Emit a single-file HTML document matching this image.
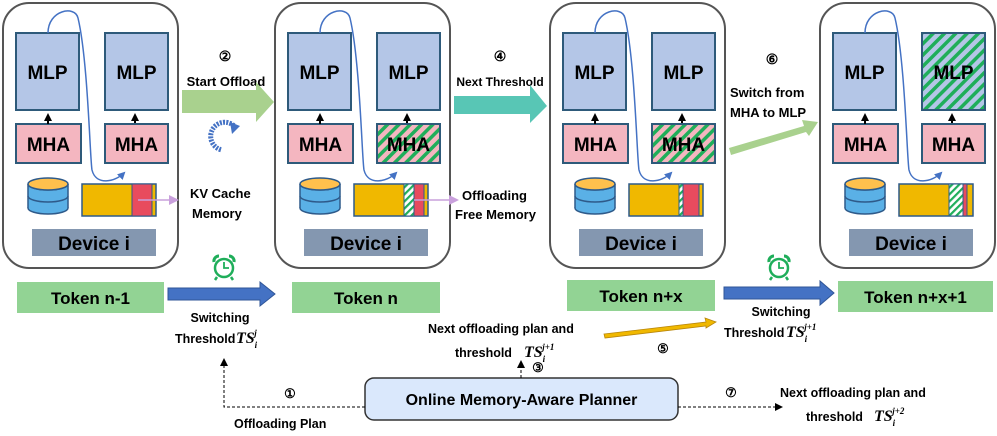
<!DOCTYPE html>
<html><head><meta charset="utf-8"><style>
html,body{margin:0;padding:0;background:#fff;}
svg{display:block;font-family:"Liberation Sans",sans-serif;}
.b{font-weight:bold;}
</style></head><body>
<svg width="997" height="436" viewBox="0 0 997 436" xmlns="http://www.w3.org/2000/svg">
<defs>
<pattern id="hp" patternUnits="userSpaceOnUse" width="8" height="8" patternTransform="rotate(45)">
<rect width="8" height="8" fill="#f4b6c0"/><rect width="3.5" height="8" fill="#1fae5a"/></pattern>
<pattern id="hb" patternUnits="userSpaceOnUse" width="8" height="8" patternTransform="rotate(45)">
<rect width="8" height="8" fill="#b4c6e7"/><rect width="3.5" height="8" fill="#1fae5a"/></pattern>
<pattern id="hw" patternUnits="userSpaceOnUse" width="5" height="5" patternTransform="rotate(45)">
<rect width="5" height="5" fill="#fff"/><rect width="2.2" height="5" fill="#1fae5a"/></pattern>
<marker id="ab" markerWidth="8" markerHeight="8" refX="6" refY="4" orient="auto" markerUnits="userSpaceOnUse"><path d="M0,0 L8,4 L0,8 z" fill="#4472c4"/></marker>
<marker id="ak" markerWidth="8" markerHeight="8" refX="6" refY="4" orient="auto" markerUnits="userSpaceOnUse"><path d="M0,0 L8,4 L0,8 z" fill="#000"/></marker>
<marker id="ap" markerWidth="10" markerHeight="10" refX="8" refY="5" orient="auto" markerUnits="userSpaceOnUse"><path d="M0,0 L10,5 L0,10 z" fill="#c9a0dc"/></marker>
<g id="db">
<ellipse cx="48" cy="208" rx="20" ry="6" fill="#5ab0e6" stroke="#2e5a8a" stroke-width="1.5"/>
<rect x="28" y="184" width="40" height="24" fill="#5ab0e6"/>
<path d="M28,184 V208 M68,184 V208" stroke="#2e5a8a" stroke-width="1.5"/>
<path d="M28,196 A20,6 0 0 0 68,196" fill="none" stroke="#2e5a8a" stroke-width="1.5"/>
<path d="M28,184 A20,6 0 0 0 68,184" fill="none" stroke="#2e5a8a" stroke-width="1.5"/>
<ellipse cx="48" cy="184" rx="20" ry="6" fill="#ffc04d" stroke="#2e5a8a" stroke-width="1.5"/>
</g>
<g id="base">
<rect x="3" y="3" width="175" height="265" rx="26" fill="#fff" stroke="#555" stroke-width="2"/>
<rect x="16" y="33" width="63" height="77" fill="#b4c6e7" stroke="#2e5a7a" stroke-width="2"/>
<text x="47.5" y="79" text-anchor="middle" class="b" font-size="19">MLP</text>
<rect x="16" y="124" width="65" height="39" fill="#f4b6c0" stroke="#2e5a7a" stroke-width="2"/>
<text x="48.5" y="151" text-anchor="middle" class="b" font-size="19">MHA</text>
<path d="M48,124 V115" stroke="#000" stroke-width="2" marker-end="url(#ak)"/>
<path d="M135,124 V115" stroke="#000" stroke-width="2" marker-end="url(#ak)"/>
<use href="#db"/>
<rect x="32" y="229" width="124" height="27" fill="#8497b0"/>
<text x="94" y="250" text-anchor="middle" class="b" font-size="19">Device i</text>
<path d="M48,33 C48,10 75,5 78,18 C88,60 90,160 92,170 C96,186 115,182 124,173" fill="none" stroke="#4472c4" stroke-width="1.5" marker-end="url(#ab)"/>
</g>
</defs>

<g>
<use href="#base"/>
<rect x="105" y="33" width="63" height="77" fill="#b4c6e7" stroke="#2e5a7a" stroke-width="2"/>
<text x="136.5" y="79" text-anchor="middle" class="b" font-size="19">MLP</text>
<rect x="105" y="124" width="63" height="39" fill="#f4b6c0" stroke="#2e5a7a" stroke-width="2"/>
<text x="136.5" y="151" text-anchor="middle" class="b" font-size="19">MHA</text>
<rect x="82" y="184" width="74" height="32" fill="#f0b800" stroke="#2e5a8a" stroke-width="1.5"/>
<rect x="132" y="184" width="20" height="32" fill="#e84b5e" stroke="#2e5a8a" stroke-width="1"/>
<path d="M138,200 H177" stroke="#c9a0dc" stroke-width="1.5" marker-end="url(#ap)"/>
</g>
<g transform="translate(272,0)">
<use href="#base"/>
<rect x="105" y="33" width="63" height="77" fill="#b4c6e7" stroke="#2e5a7a" stroke-width="2"/>
<text x="136.5" y="79" text-anchor="middle" class="b" font-size="19">MLP</text>
<rect x="105" y="124" width="63" height="39" fill="url(#hp)" stroke="#2e5a7a" stroke-width="2"/>
<text x="136.5" y="151" text-anchor="middle" class="b" font-size="19">MHA</text>
<rect x="82" y="184" width="74" height="32" fill="#f0b800" stroke="#2e5a8a" stroke-width="1.5"/>
<rect x="132" y="184" width="10" height="32" fill="url(#hw)" stroke="#2e5a8a" stroke-width="1"/>
<rect x="142" y="184" width="10" height="32" fill="#e84b5e" stroke="#2e5a8a" stroke-width="1"/>
<path d="M142,200 H185" stroke="#c9a0dc" stroke-width="1.5" marker-end="url(#ap)"/>
</g>
<g transform="translate(547,0)">
<use href="#base"/>
<rect x="105" y="33" width="63" height="77" fill="#b4c6e7" stroke="#2e5a7a" stroke-width="2"/>
<text x="136.5" y="79" text-anchor="middle" class="b" font-size="19">MLP</text>
<rect x="105" y="124" width="63" height="39" fill="url(#hp)" stroke="#2e5a7a" stroke-width="2"/>
<text x="136.5" y="151" text-anchor="middle" class="b" font-size="19">MHA</text>
<rect x="82" y="184" width="74" height="32" fill="#f0b800" stroke="#2e5a8a" stroke-width="1.5"/>
<rect x="132" y="184" width="4" height="32" fill="url(#hw)" stroke="#2e5a8a" stroke-width="1"/>
<rect x="136" y="184" width="16" height="32" fill="#e84b5e" stroke="#2e5a8a" stroke-width="1"/>
</g>
<g transform="translate(817,0)">
<use href="#base"/>
<rect x="105" y="33" width="63" height="77" fill="url(#hb)" stroke="#2e5a7a" stroke-width="2"/>
<text x="136.5" y="79" text-anchor="middle" class="b" font-size="19">MLP</text>
<rect x="105" y="124" width="63" height="39" fill="#f4b6c0" stroke="#2e5a7a" stroke-width="2"/>
<text x="136.5" y="151" text-anchor="middle" class="b" font-size="19">MHA</text>
<rect x="82" y="184" width="74" height="32" fill="#f0b800" stroke="#2e5a8a" stroke-width="1.5"/>
<rect x="132" y="184" width="14" height="32" fill="url(#hw)" stroke="#2e5a8a" stroke-width="1"/>
<rect x="146" y="184" width="4" height="32" fill="#e84b5e" stroke="#2e5a8a" stroke-width="1"/>
</g>

<text x="225" y="61" text-anchor="middle" font-size="14" class="b">②</text>
<text x="226" y="86" text-anchor="middle" font-size="13" class="b">Start Offload</text>
<path d="M182,90 H256 V82 L274,102 L256,122 V113 H182 z" fill="#a9d18e"/>
<path d="M236,128 A14,14 0 1 0 222,150" fill="none" stroke="#4472c4" stroke-width="5" stroke-dasharray="2 1.2"/>
<path d="M230,122 L240,126 L232,134 z" fill="#4472c4"/>
<text x="190" y="198" font-size="13" class="b">KV Cache</text>
<text x="192" y="218" font-size="13" class="b">Memory</text>

<text x="500" y="61" text-anchor="middle" font-size="14" class="b">④</text>
<text x="500" y="86" text-anchor="middle" font-size="12" class="b">Next Threshold</text>
<path d="M454,96 H530 V85 L547,106 L530,123 V114 H454 z" fill="#58c6b5"/>
<text x="462" y="200" font-size="13" class="b">Offloading</text>
<text x="455" y="219" font-size="13" class="b">Free Memory</text>

<text x="772" y="64" text-anchor="middle" font-size="14" class="b">⑥</text>
<text x="730" y="97" font-size="13" class="b">Switch from</text>
<text x="730" y="117" font-size="13" class="b">MHA to MLP</text>
<path d="M729,148 L804,126 L802,120 L818,122 L809,136 L806,132 L731,155 z" fill="#a9d18e"/>

<g id="clk" fill="none" stroke="#1fae5a" stroke-width="2.5">
<circle cx="224" cy="268" r="9"/>
<path d="M224,262 V268 H229" stroke-width="1.8"/>
<path d="M214,262 A5,5 0 0 1 219,256 M234,262 A5,5 0 0 0 229,256" stroke-width="3"/>
<path d="M217,277 L215,280 M231,277 L233,280"/>
</g>
<use href="#clk" transform="translate(555,0)"/>

<rect x="17" y="282" width="147" height="31" fill="#92d394"/>
<text x="90.5" y="304" text-anchor="middle" font-size="17" class="b">Token n-1</text>
<rect x="292" y="282" width="148" height="31" fill="#92d394"/>
<text x="366" y="304" text-anchor="middle" font-size="17" class="b">Token n</text>
<rect x="567" y="280" width="148" height="31" fill="#92d394"/>
<text x="641" y="302" text-anchor="middle" font-size="17" class="b">Token n+x</text>
<rect x="838" y="281" width="155" height="31" fill="#92d394"/>
<text x="915.5" y="303" text-anchor="middle" font-size="17" class="b">Token n+x+1</text>

<path d="M168,288 H260 V282 L275,294 L260,306 V300 H168 z" fill="#4472c4" stroke="#2f5597" stroke-width="1"/>
<path d="M724,287 H820 V281 L834,293 L820,305 V299 H724 z" fill="#4472c4" stroke="#2f5597" stroke-width="1"/>

<text x="220" y="322" text-anchor="middle" font-size="12.5" class="b">Switching</text>
<text x="175" y="343" font-size="12.5" class="b">Threshold</text>
<text x="236" y="343" font-size="16" font-style="italic" font-family="Liberation Serif" class="b">TS<tspan font-size="9" dy="5">i</tspan><tspan font-size="9" dx="-3" dy="-12">j</tspan></text>

<text x="781" y="316" text-anchor="middle" font-size="12.5" class="b">Switching</text>
<text x="724" y="337" font-size="12.5" class="b">Threshold</text>
<text x="786" y="337" font-size="16" font-style="italic" font-family="Liberation Serif" class="b">TS<tspan font-size="9" dy="5">i</tspan><tspan font-size="9" dx="-3" dy="-12">j+1</tspan></text>

<text x="428" y="333" font-size="12.5" class="b">Next offloading plan and</text>
<text x="455" y="357" font-size="12.5" class="b">threshold</text>
<text x="524" y="357" font-size="16" font-style="italic" font-family="Liberation Serif" class="b">TS<tspan font-size="9" dy="5">i</tspan><tspan font-size="9" dx="-3" dy="-12">j+1</tspan></text>
<path d="M604,334 L706,322 L705,318 L716,322 L706,328 L706,326 L605,338 z" fill="#f0b800" stroke="#b8860b" stroke-width="0.8"/>
<text x="663" y="353" text-anchor="middle" font-size="13" class="b">⑤</text>

<rect x="365" y="378" width="313" height="42" rx="9" fill="#dae8fc" stroke="#333" stroke-width="1.5"/>
<text x="521.5" y="405" text-anchor="middle" font-size="16" class="b">Online Memory-Aware Planner</text>

<path d="M365,407 H224 V360" fill="none" stroke="#000" stroke-width="1" stroke-dasharray="3 2" marker-end="url(#ak)"/>
<text x="290" y="398" text-anchor="middle" font-size="13" class="b">①</text>
<text x="234" y="428" font-size="12.5" class="b">Offloading Plan</text>

<path d="M521,378 V362" fill="none" stroke="#000" stroke-width="1" stroke-dasharray="3 2" marker-end="url(#ak)"/>
<text x="538" y="372" text-anchor="middle" font-size="13" class="b">③</text>

<path d="M678,407 H781" fill="none" stroke="#000" stroke-width="1" stroke-dasharray="3 2" marker-end="url(#ak)"/>
<text x="731" y="397" text-anchor="middle" font-size="13" class="b">⑦</text>
<text x="780" y="397" font-size="12.5" class="b">Next offloading plan and</text>
<text x="806" y="421" font-size="12.5" class="b">threshold</text>
<text x="874" y="421" font-size="16" font-style="italic" font-family="Liberation Serif" class="b">TS<tspan font-size="9" dy="5">i</tspan><tspan font-size="9" dx="-3" dy="-12">j+2</tspan></text>
</svg>
</body></html>
